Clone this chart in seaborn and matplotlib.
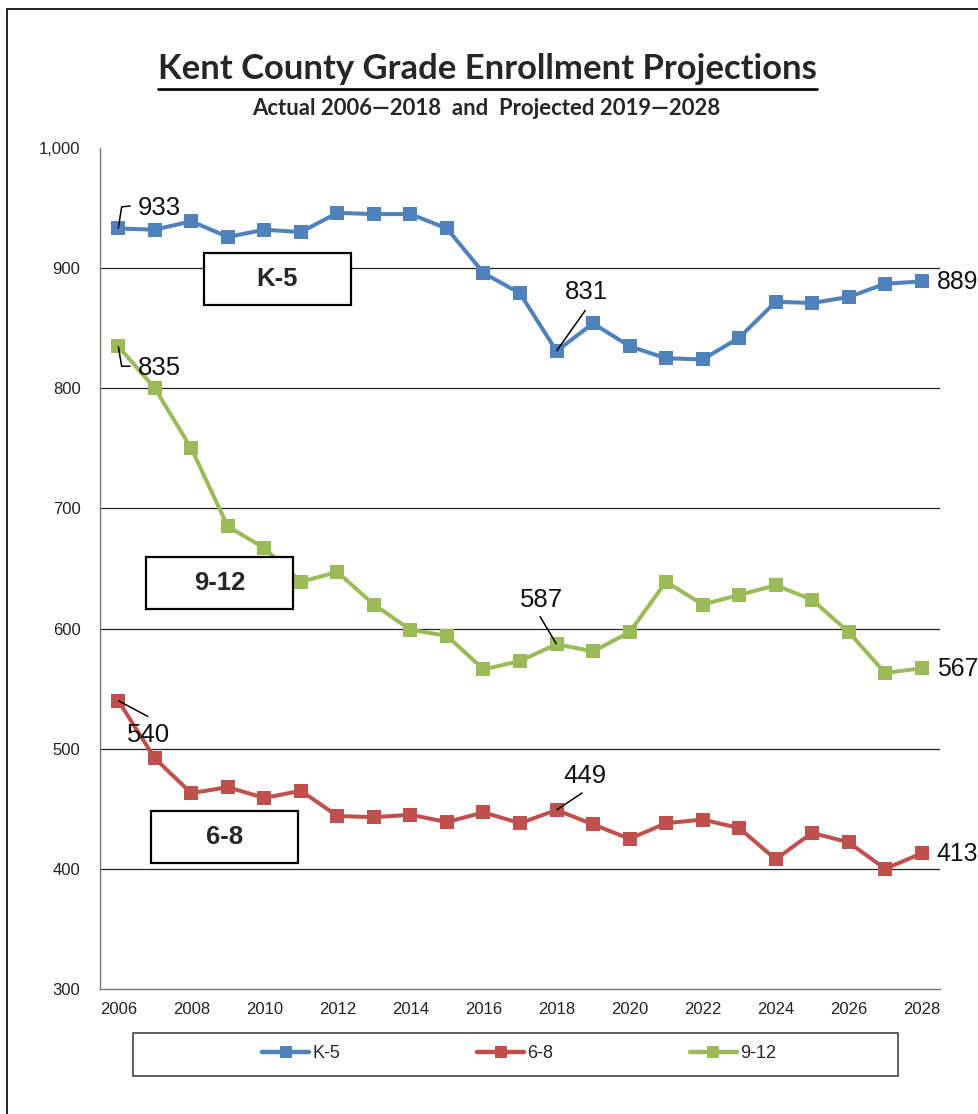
import matplotlib
matplotlib.use("Agg")
import matplotlib.pyplot as plt
import matplotlib.ticker as mticker
from matplotlib.patches import Rectangle
from matplotlib.lines import Line2D
import seaborn as sns
import pandas as pd

# ---------------- data ----------------
years = list(range(2006, 2029))
k5 = [933, 932, 939, 926, 932, 930, 946, 945, 945, 933, 896, 879, 831,
      854, 835, 825, 824, 842, 872, 871, 876, 887, 889]
g68 = [540, 492, 463, 468, 459, 465, 444, 443, 445, 439, 447, 438, 449,
       437, 425, 438, 441, 434, 408, 430, 422, 400, 413]
g912 = [835, 800, 750, 685, 667, 639, 647, 620, 599, 594, 566, 573, 587,
        581, 597, 639, 620, 628, 636, 624, 597, 563, 567]
series_names = ["K-5", "6-8", "9-12"]
series_colors = ["#4F81BD", "#C0504D", "#9BBB59"]
yticks = [300, 400, 500, 600, 700, 800, 900, 1000]
grid_vals = [400, 500, 600, 700, 800, 900]
xlabels = list(range(2006, 2029, 2))
title = "Kent County Grade Enrollment Projections"
subtitle = "Actual 2006\u20142018  and  Projected 2019\u20142028"

df = pd.DataFrame({"year": years * 3,
                   "value": k5 + g68 + g912,
                   "grade": [s for s in series_names for _ in years]})

# ---------------- figure ----------------
sns.set_style("white")
plt.rcParams["font.family"] = ["Liberation Sans", "DejaVu Sans"]

W, H = 979, 1114
fig = plt.figure(figsize=(W / 100, H / 100), dpi=100)
ax = fig.add_axes([100 / W, (H - 989) / H, 840 / W, 841 / H])

for name, col in zip(series_names, series_colors):
    sub = df[df["grade"] == name]
    sns.lineplot(data=sub, x="year", y="value", ax=ax, color=col,
                 linewidth=2.9, marker="s", markersize=10, markeredgewidth=0,
                 label=name, zorder=3, legend=False)

ax.set_xlim(2005.5, 2028.5)
ax.set_ylim(300, 1000)
ax.set_xlabel("")
ax.set_ylabel("")

for g in grid_vals:
    ax.axhline(g, color="#222222", linewidth=0.9, zorder=1)

ax.set_yticks(yticks)
ax.yaxis.set_major_formatter(mticker.FuncFormatter(lambda v, p: f"{v:,.0f}"))
ax.set_xticks(xlabels)
ax.set_xticklabels([str(x) for x in xlabels])
ax.set_xticks([y - 0.5 for y in years] + [years[-1] + 0.5], minor=True)
ax.tick_params(axis="x", which="major", length=0, pad=9, labelsize=12, colors="#222222")
ax.tick_params(axis="x", which="minor", length=4, width=1, color="#555555", direction="out")
ax.tick_params(axis="y", which="major", length=4, width=1, color="#555555", direction="out",
               pad=10, labelsize=12, labelcolor="#222222")
for s in ["top", "right"]:
    ax.spines[s].set_visible(False)
for s in ["left", "bottom"]:
    ax.spines[s].set_color("#777777")
    ax.spines[s].set_linewidth(1.0)

# ---------------- annotations ----------------
def shifted(x, y, dx, dy):
    X, Y = ax.transData.transform((x, y))
    return ax.transData.inverted().transform((X + dx, Y - dy))

def label(x, y, text, dx, dy, leader=None, fs=18.5):
    ax.annotate(text, xy=(x, y), xytext=(dx, -dy), textcoords="offset pixels",
                ha="left", va="baseline", fontsize=fs, color="#111111", zorder=6)
    if leader:
        pts = [shifted(x, y, a, b) for a, b in leader]
        ax.plot([p[0] for p in pts], [p[1] for p in pts], color="black",
                linewidth=1.1, zorder=5, solid_capstyle="butt")

label(years[0], k5[0], str(k5[0]), 19, -13.5, [(0, 0), (3.4, -21.6), (12.4, -22.6)])
label(years[0], g912[0], str(g912[0]), 20, 28.8, [(0, 0), (3.4, 20), (12.4, 20)])
label(years[0], g68[0], str(g68[0]), 8.4, 41, [(0, 0), (30, 16)])
i18 = years.index(2018)
label(years[i18], k5[i18], str(k5[i18]), 8.5, -51.7, [(0, 0), (29, -41)])
label(years[i18], g912[i18], str(g912[i18]), -37, -36.9, [(0, 0), (-16.7, -28)])
label(years[i18], g68[i18], str(g68[i18]), 6.8, -27.3, [(0, 0), (26, -17.3)])
label(years[-1], k5[-1], str(k5[-1]), 15, 8, fs=17.8)
label(years[-1], g912[-1], str(g912[-1]), 15, 7.5, fs=17.8)
label(years[-1], g68[-1], str(g68[-1]), 15, 7.8, fs=17.8)

# grade boxes (axes fraction)
boxes = {"K-5": (204, 351, 253, 305), "9-12": (146, 293, 557, 609), "6-8": (151, 298, 811, 863)}
for name, (x0, x1, y0, y1) in boxes.items():
    ax0 = (x0 - 100) / 840
    ax1 = (x1 - 100) / 840
    ay0 = (989 - y1) / 841
    ay1 = (989 - y0) / 841
    ax.add_patch(Rectangle((ax0, ay0), ax1 - ax0, ay1 - ay0, transform=ax.transAxes,
                           facecolor="white", edgecolor="black", linewidth=1.6,
                           zorder=7, clip_on=False))
    ax.text((ax0 + ax1) / 2, (ay0 + ay1) / 2, name, transform=ax.transAxes,
            ha="center", va="center", fontsize=18.5, fontweight="bold", zorder=8)

# ---------------- titles ----------------
renderer = fig.canvas.get_renderer()

def fitted_text(cx, base_y, text, target_w, fs):
    t = fig.text(cx / W, (H - base_y) / H, text, ha="center", va="baseline",
                 fontsize=fs, fontweight="bold", family=["Lato", "DejaVu Sans"])
    w = t.get_window_extent(renderer).width
    t.set_fontsize(fs * target_w / w)
    return t

fitted_text(487.5, 79, title, 659, 22)
fig.add_artist(Line2D([158 / W, 817 / W], [(H - 89.3) / H] * 2, color="black",
                      linewidth=1.9, transform=fig.transFigure))
fitted_text(486.7, 115, subtitle, 470, 14)

# ---------------- legend ----------------
fig.add_artist(Rectangle((133 / W, (H - 1076) / H), 765 / W, 43 / H,
                         transform=fig.transFigure, facecolor="white",
                         edgecolor="#444444", linewidth=1.2))
handles = [Line2D([], [], color=c, linewidth=3.2, marker="s", markersize=8.5,
                  markeredgewidth=0) for c in series_colors]
fig.legend(handles, series_names, loc="center", bbox_to_anchor=(519 / W, (H - 1054) / H),
           ncol=3, frameon=False, fontsize=13, handlelength=2.6, handletextpad=0.15,
           columnspacing=7.6)

# outer frame
fig.add_artist(Rectangle((7 / W, -0.05), 1.1, (H - 9) / H + 0.05, transform=fig.transFigure,
                         facecolor="none", edgecolor="black", linewidth=1.2))

fig.savefig("out.png", dpi=100)
